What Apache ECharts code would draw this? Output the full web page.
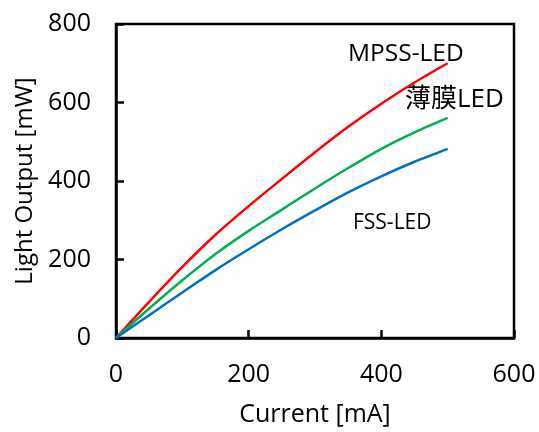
<!DOCTYPE html>
<html>
<head>
<meta charset="utf-8">
<script src="https://cdn.jsdelivr.net/npm/echarts@6/dist/echarts.min.js"></script>
<style>
html,body{margin:0;padding:0;background:#fff;}
#chart{width:539px;height:432px;}
</style>
</head>
<body>
<div id="chart"></div>
<script>
const currents = [0, 50, 100, 150, 200, 250, 300, 350, 400, 450, 500];
const mpssLED = [0, 92, 181, 263, 336, 405, 473, 538, 597, 651, 700];
const thinFilmLED = [0, 75, 147, 214, 273, 327, 381, 433, 482, 524, 561];
const fssLED = [0, 58, 116, 173, 226, 277, 325, 371, 412, 449, 482];
const xTicks = [0, 200, 400, 600];
const yTicks = [0, 200, 400, 600, 800];
const seriesNames = ['MPSS-LED', '薄膜LED', 'FSS-LED'];

const pair = arr => currents.map((c, i) => [c, arr[i]]);
const tickFont = '"Open Sans", sans-serif';
const annFont = '"Open Sans", "Noto Sans CJK JP", sans-serif';

const chart = echarts.init(document.getElementById('chart'));
chart.setOption({
  animation: false,
  backgroundColor: '#fff',
  grid: {left: 116, top: 24, right: 25, bottom: 87, show: true, borderColor: '#000', borderWidth: 2.5},
  xAxis: {
    type: 'value', min: xTicks[0], max: xTicks[xTicks.length - 1], interval: 200,
    name: 'Current [mA]', nameLocation: 'middle', nameGap: 64,
    nameTextStyle: {fontFamily: tickFont, fontSize: 25, color: '#000'},
    axisLine: {lineStyle: {color: '#000', width: 2.5}},
    axisTick: {inside: true, length: 8, lineStyle: {color: '#000', width: 2.5}},
    axisLabel: {fontFamily: tickFont, fontSize: 25, color: '#000', margin: 24},
    splitLine: {show: false}
  },
  yAxis: {
    type: 'value', min: yTicks[0], max: yTicks[yTicks.length - 1], interval: 200,
    name: 'Light Output [mW]', nameLocation: 'middle', nameGap: 76,
    nameTextStyle: {fontFamily: tickFont, fontSize: 24, color: '#000'},
    axisLine: {lineStyle: {color: '#000', width: 2.5}},
    axisTick: {inside: true, length: 8, lineStyle: {color: '#000', width: 2.5}},
    axisLabel: {fontFamily: tickFont, fontSize: 25, color: '#000', margin: 25},
    splitLine: {show: false}
  },
  series: [
    {name: seriesNames[0], type: 'line', data: pair(mpssLED), smooth: 0.3, showSymbol: false, lineStyle: {color: '#FF0000', width: 2.5}},
    {name: seriesNames[1], type: 'line', data: pair(thinFilmLED), smooth: 0.3, showSymbol: false, lineStyle: {color: '#00B050', width: 2.5}},
    {name: seriesNames[2], type: 'line', data: pair(fssLED), smooth: 0.3, showSymbol: false, lineStyle: {color: '#0070C0', width: 2.5}}
  ],
  graphic: [
    {type: 'text', left: 348, top: 42, style: {text: seriesNames[0], font: '24.5px ' + annFont, fill: '#000'}},
    {type: 'text', left: 405, top: 87, style: {text: seriesNames[1], font: '26px ' + annFont, fill: '#000'}},
    {type: 'text', left: 353, top: 213, style: {text: seriesNames[2], font: '21px ' + annFont, fill: '#000'}}
  ]
});
</script>
</body>
</html>
